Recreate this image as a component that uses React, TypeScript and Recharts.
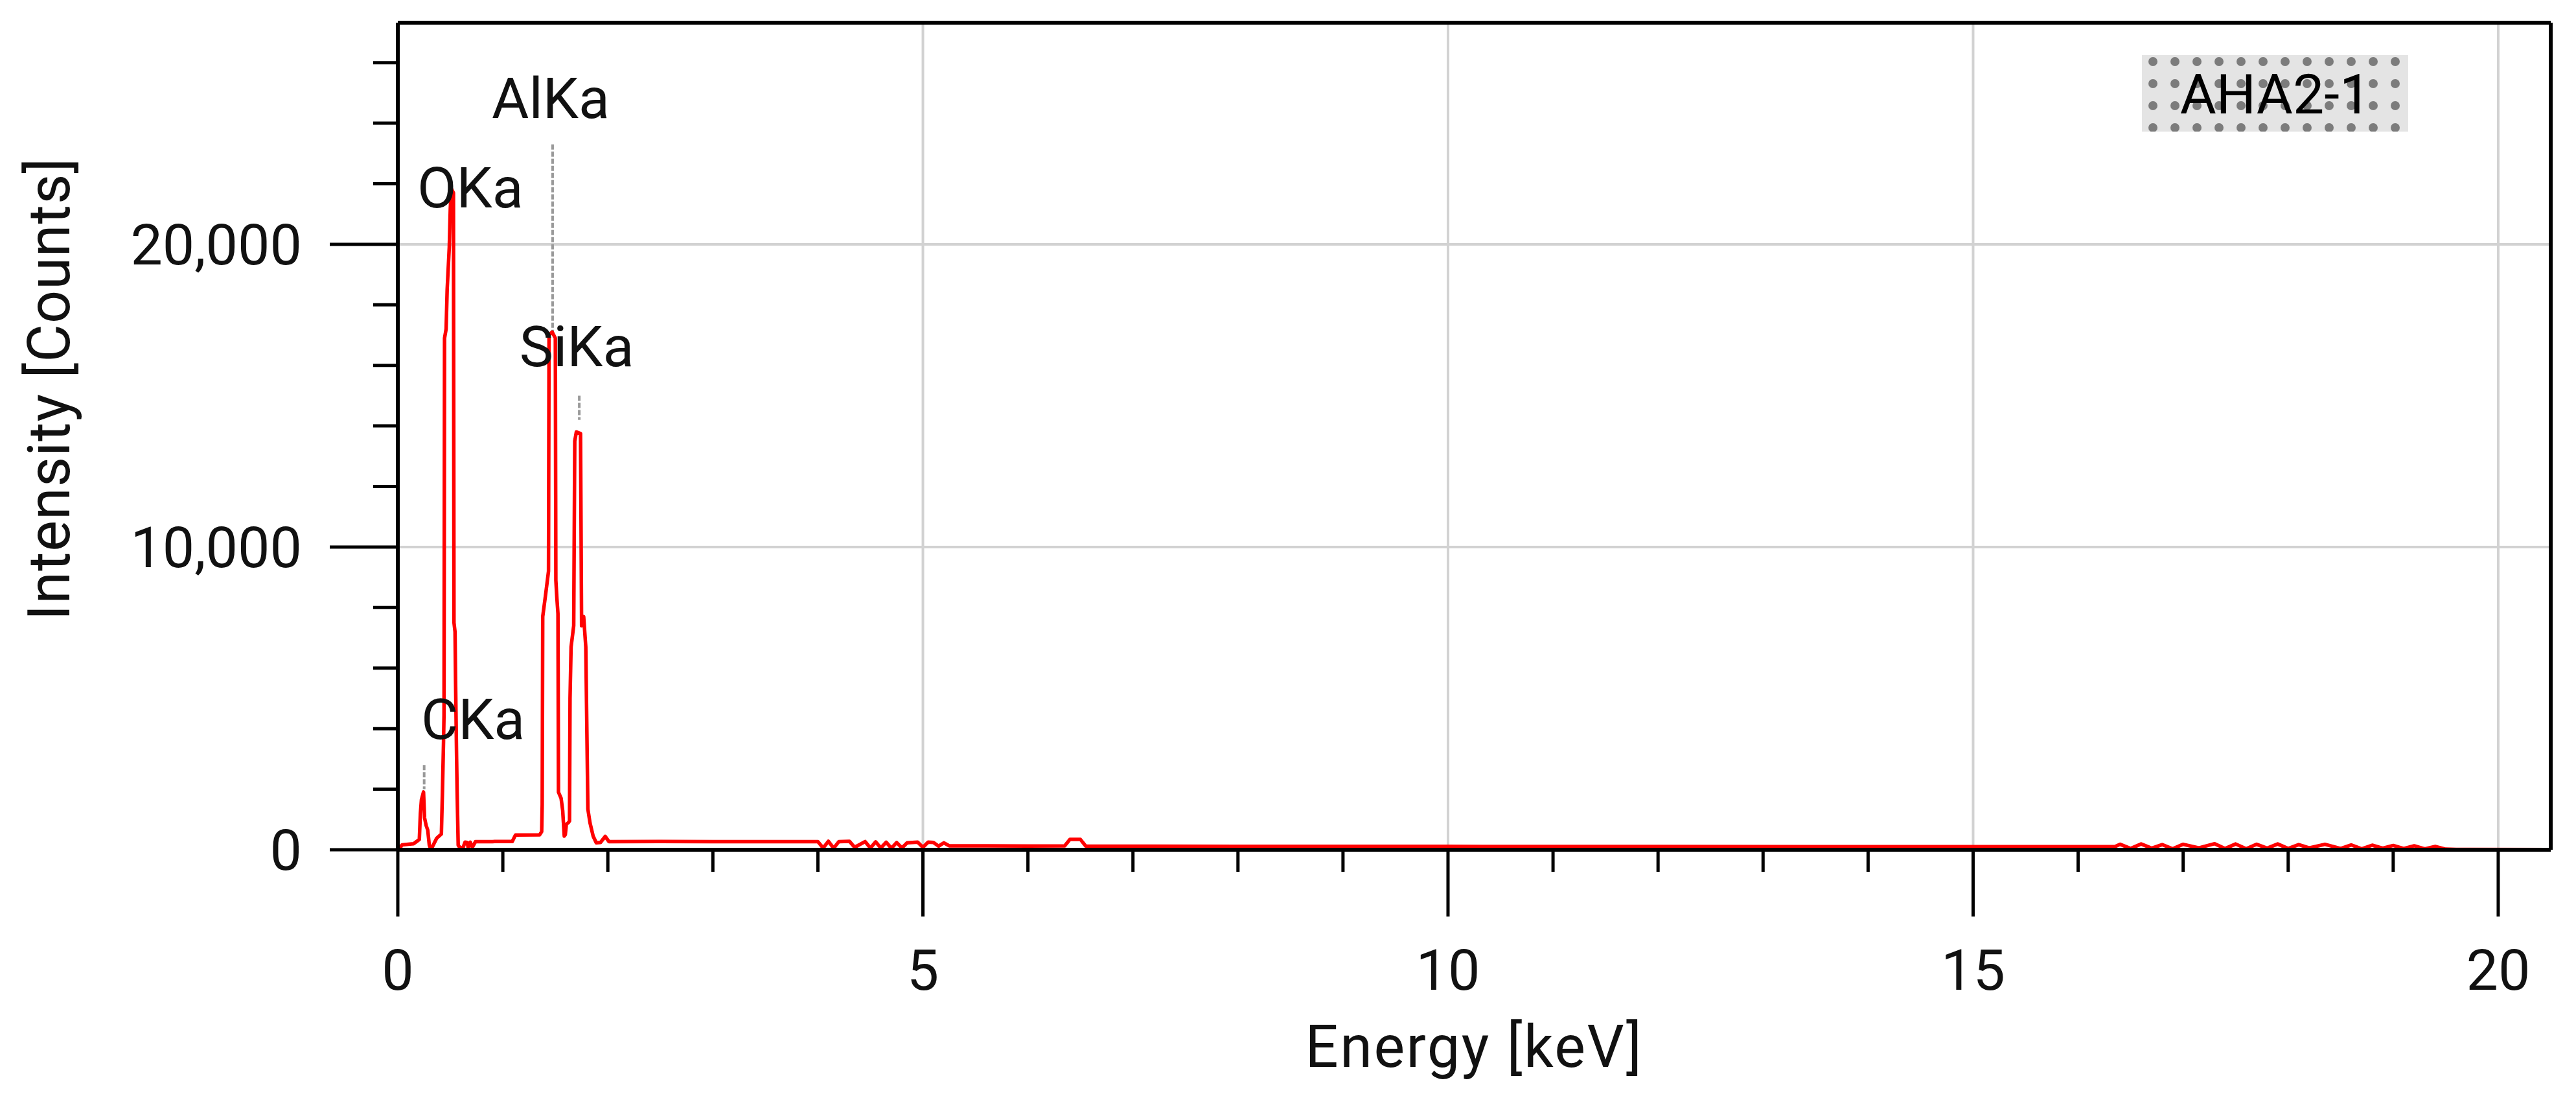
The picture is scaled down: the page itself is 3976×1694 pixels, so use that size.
import { LineChart, Line, XAxis, YAxis, ReferenceLine, ReferenceDot, Label } from 'recharts';

// EDS spectrum, sample AHA2-1
const energyKeV = [
  0, 0.02, 0.04, 0.1, 0.15, 0.19, 0.205, 0.215, 0.225, 0.245, 0.255, 0.27, 0.285, 0.3, 0.31, 0.33, 0.37,
  0.415, 0.425, 0.435, 0.44, 0.445, 0.46, 0.47, 0.49, 0.5, 0.51, 0.53, 0.535, 0.545, 0.55, 0.56, 0.565,
  0.575, 0.59, 0.62, 0.64, 0.66, 0.67, 0.69, 0.71, 0.74, 0.9, 1.09, 1.12, 1.35, 1.37, 1.375, 1.38, 1.41,
  1.435, 1.44, 1.47, 1.5, 1.505, 1.515, 1.525, 1.53, 1.555, 1.57, 1.585, 1.595, 1.605, 1.625, 1.635, 1.64,
  1.65, 1.675, 1.685, 1.7, 1.74, 1.75, 1.77, 1.79, 1.81, 1.83, 1.86, 1.89, 1.93, 1.975, 2.01, 2.5, 3.0,
  3.5, 4.0, 4.05, 4.1, 4.15, 4.2, 4.3, 4.35, 4.45, 4.5, 4.55, 4.6, 4.65, 4.7, 4.75, 4.8, 4.85, 4.95, 5.0,
  5.05, 5.1, 5.15, 5.2, 5.25, 5.3, 5.5, 6.0, 6.35, 6.4, 6.5, 6.55, 7, 8, 9, 10, 12, 14, 16, 16.35, 16.4,
  16.5, 16.6, 16.7, 16.8, 16.9, 17.0, 17.15, 17.3, 17.4, 17.5, 17.6, 17.7, 17.8, 17.9, 18.0, 18.1, 18.2,
  18.35, 18.5, 18.6, 18.7, 18.8, 18.9, 19.0, 19.1, 19.2, 19.3, 19.4, 19.5, 19.6, 20.5,
];
const intensity = [
  0, 50, 160, 180, 200, 300, 340, 1200, 1650, 1910, 1050, 800, 650, 150, 60, 100, 380,
  520, 1900, 3500, 4450, 16900, 17200, 18500, 19900, 21200, 21830, 21700, 7500, 7200, 5600, 3000, 1900,
  150, 80, 60, 250, 240, 70, 250, 80, 270, 270, 275, 485, 490, 600, 1500, 7700, 8500,
  9200, 17000, 17100, 16900, 8900, 8300, 7800, 1900, 1700, 1300, 450, 500, 840, 900, 950, 5000,
  6700, 7400, 13500, 13800, 13750, 7400, 7700, 6700, 1340, 890, 450, 230, 240, 440, 270, 275, 270,
  268, 270, 60, 280, 50, 270, 280, 80, 270, 60, 260, 60, 250, 50, 240, 60, 230, 250, 80,
  250, 240, 120, 230, 130, 130, 130, 125, 130, 340, 340, 125, 120, 115, 110, 110, 105, 100, 100, 100, 180,
  40, 190, 50, 170, 30, 180, 60, 200, 40, 190, 30, 180, 50, 190, 40, 170, 60,
  180, 40, 160, 30, 150, 50, 140, 40, 130, 30, 110, 20, 10, 5,
];

const xTicks = [0, 1, 2, 3, 4, 5, 6, 7, 8, 9, 10, 11, 12, 13, 14, 15, 16, 17, 18, 19, 20];
const yTicks = [0, 2000, 4000, 6000, 8000, 10000, 12000, 14000, 16000, 18000, 20000, 22000, 24000, 26000];
const gridX = [5, 10, 15, 20];
const gridY = [10000, 20000];

const peakNames = ['CKa', 'OKa', 'AlKa', 'SiKa'];
const peakLabelKeV = [0.716, 0.69, 1.456, 1.703];
const peakLabelCounts = [3660, 21220, 24180, 15970];

const markerKeV = [0.251, 1.474, 1.728];
const markerTop = [2800, 23300, 15000];
const markerBottom = [2000, 17100, 14200];

const sampleName = 'AHA2-1';

const X_MAX = 20.5;
const Y_MAX = 27320;
const FONT = 'Roboto, "Noto Sans", sans-serif';

const data = energyKeV.map((e, i) => ({ e, c: intensity[i] }));

const XTick = (props: any) => {
  const { x, y, payload } = props;
  const major = payload.value % 5 === 0;
  return (
    <g>
      <line x1={x} x2={x} y1={y} y2={y + (major ? 103 : 34)} stroke="#000" strokeWidth={5} />
      {major && (
        <text x={x} y={y + 216} textAnchor="middle" fontSize={88} fontFamily={FONT} fill="#111">
          {payload.value}
        </text>
      )}
    </g>
  );
};

const YTick = (props: any) => {
  const { x, y, payload } = props;
  const major = payload.value % 10000 === 0;
  return (
    <g>
      <line x1={x - (major ? 105 : 38)} x2={x} y1={y} y2={y} stroke="#000" strokeWidth={5} />
      {major && (
        <text x={x - 148} y={y} dy="0.355em" textAnchor="end" fontSize={88} fontFamily={FONT} fill="#111">
          {payload.value.toLocaleString('en-US')}
        </text>
      )}
    </g>
  );
};

export default function App() {
  return (
    <div style={{ position: 'absolute', left: 0, top: 0, width: 3976, height: 1694, background: '#fff' }}>
      <LineChart width={3976} height={1694} data={data} margin={{ top: 35, right: 39, left: 0, bottom: 0 }}>
        {gridX.map(v => (
          <ReferenceLine key={'gx' + v} x={v} stroke="#d2d2d2" strokeWidth={4} />
        ))}
        {gridY.map(v => (
          <ReferenceLine key={'gy' + v} y={v} stroke="#d2d2d2" strokeWidth={4} />
        ))}
        <ReferenceLine y={Y_MAX} stroke="#000" strokeWidth={6} />
        <ReferenceLine x={X_MAX} stroke="#000" strokeWidth={6} />
        <XAxis
          type="number"
          dataKey="e"
          domain={[0, X_MAX]}
          ticks={xTicks}
          interval={0}
          height={383}
          tickSize={0}
          tickMargin={0}
          tickLine={false}
          axisLine={{ stroke: '#000', strokeWidth: 6 }}
          tick={XTick}
        >
          <Label
            content={({ viewBox }: any) => (
              <text
                x={viewBox.x + viewBox.width / 2}
                y={viewBox.y + 335}
                textAnchor="middle"
                fontSize={90}
                letterSpacing={2.5}
                fontFamily={FONT}
                fill="#111"
              >
                Energy [keV]
              </text>
            )}
          />
        </XAxis>
        <YAxis
          type="number"
          domain={[0, Y_MAX]}
          ticks={yTicks}
          interval={0}
          width={614}
          tickSize={0}
          tickMargin={0}
          tickLine={false}
          axisLine={{ stroke: '#000', strokeWidth: 6 }}
          tick={YTick}
        >
          <Label
            content={({ viewBox }: any) => {
              const cx = viewBox.x + 107;
              const cy = viewBox.y + viewBox.height / 2 - 73;
              return (
                <text
                  transform={`translate(${cx}, ${cy}) rotate(-90)`}
                  textAnchor="middle"
                  fontSize={90}
                  letterSpacing={1}
                  fontFamily={FONT}
                  fill="#111"
                >
                  Intensity [Counts]
                </text>
              );
            }}
          />
        </YAxis>
        {markerKeV.map((k, i) => (
          <ReferenceLine
            key={'m' + i}
            segment={[
              { x: k, y: markerTop[i] },
              { x: k, y: markerBottom[i] },
            ]}
            stroke="#999"
            strokeWidth={4}
            strokeDasharray="8 3"
          />
        ))}
        <Line
          type="linear"
          dataKey="c"
          stroke="#ff0000"
          strokeWidth={5.5}
          strokeLinejoin="round"
          dot={false}
          isAnimationActive={false}
        />
        {peakNames.map((name, i) => (
          <ReferenceDot
            key={name}
            x={peakLabelKeV[i]}
            y={peakLabelCounts[i]}
            r={0}
            shape={(p: any) => (
              <text x={p.cx} y={p.cy} textAnchor="middle" fontSize={88} fontFamily={FONT} fill="#111">
                {name}
              </text>
            )}
          />
        ))}
      </LineChart>
      <svg
        width={3976}
        height={1694}
        style={{ position: 'absolute', left: 0, top: 0, pointerEvents: 'none' }}
      >
        <defs>
          <pattern id="halftone" x={3306} y={78} width={34} height={34} patternUnits="userSpaceOnUse">
            <rect width={34} height={34} fill="#e4e4e4" />
            <circle cx={17} cy={17} r={7} fill="#7c7c7c" />
          </pattern>
        </defs>
        <rect x={3306} y={85} width={411} height={118} fill="url(#halftone)" />
        <text x={3512} y={175} textAnchor="middle" fontSize={86} fontFamily={FONT} fill="#000">
          {sampleName}
        </text>
      </svg>
    </div>
  );
}
